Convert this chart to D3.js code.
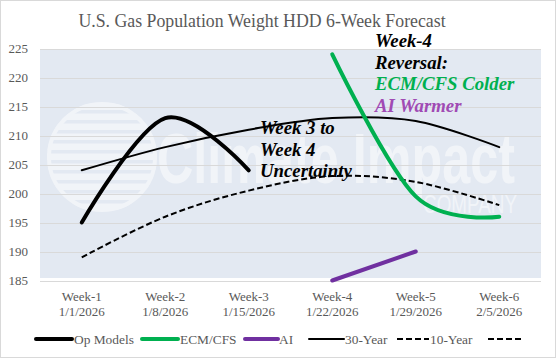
<!DOCTYPE html>
<html>
<head>
<meta charset="utf-8">
<script src="https://cdn.jsdelivr.net/npm/d3@7"></script>
<style>
  html, body { margin: 0; padding: 0; background: #fff; }
  svg { display: block; }
</style>
</head>
<body>
<div id="chart"></div>
<script>
// ---- Data ----
const weeks = ["Week-1", "Week-2", "Week-3", "Week-4", "Week-5", "Week-6"];
const dates = ["1/1/2026", "1/8/2026", "1/15/2026", "1/22/2026", "1/29/2026", "2/5/2026"];
const opModels = [195, 213, 204, null, null, null];
const ecmCfs = [null, null, null, 224, 199.5, 196];
const aiModel = [null, null, null, 185, 190, null];
const year30 = [204, 208, 211, 213, 212.5, 208];
const year10 = [189, 196, 200.5, 203, 202, 198];
const yTicks = [185, 190, 195, 200, 205, 210, 215, 220, 225];
const legendNames = ["Op Models", "ECM/CFS", "AI", "30-Year", "10-Year", ""];

// pick an installed serif font
function hasFont(name) {
  const c = document.createElement("canvas").getContext("2d");
  const s = "mmmmmmmmmmlliWWW 1234567890";
  c.font = "40px monospace"; const a = c.measureText(s).width;
  c.font = `40px '${name}', monospace`; const b = c.measureText(s).width;
  c.font = "40px sans-serif"; const a2 = c.measureText(s).width;
  c.font = `40px '${name}', sans-serif`; const b2 = c.measureText(s).width;
  return a !== b || a2 !== b2;
}
const serifCandidates = ["Liberation Serif", "Times New Roman", "Tinos", "DejaVu Serif"];
const serifName = serifCandidates.find(hasFont);
const SERIF = serifName ? `'${serifName}', serif` : "serif";

const W = 556, H = 358;
const plot = { left: 40, right: 541, top: 48.5, bottom: 280.5 };

const svg = d3.select("#chart").append("svg").attr("width", W).attr("height", H)
  .attr("font-family", SERIF);

// outer border
svg.append("rect").attr("x", 0.5).attr("y", 0.5).attr("width", W - 1).attr("height", H - 1)
  .attr("fill", "#fff").attr("stroke", "#d9d9d9");

const x = d3.scaleBand().domain(weeks).range([plot.left, plot.right]).padding(0);
const xc = d => x(d) + x.bandwidth() / 2;
const y = d3.scaleLinear().domain([185, 225]).range([plot.bottom, plot.top]);

// plot background
svg.append("rect").attr("x", plot.left).attr("y", plot.top + 1.5)
  .attr("width", plot.right - plot.left).attr("height", plot.bottom - plot.top - 4)
  .attr("fill", "#e3e9f2");

// watermark
const wm = svg.append("g").attr("opacity", 0.5).attr("fill", "#fff");
const cx = 102, cy = 157, r = 55;
const clipId = "globeclip";
svg.append("defs").append("clipPath").attr("id", clipId)
  .append("circle").attr("cx", cx).attr("cy", cy).attr("r", r);
const globe = wm.append("g").attr("clip-path", `url(#${clipId})`);
d3.range(-5, 6).forEach(i => {
  globe.append("rect").attr("x", cx - r).attr("y", cy + i * 10 - 3.5)
    .attr("width", 2 * r).attr("height", 6.5);
});
wm.append("circle").attr("cx", cx).attr("cy", cy).attr("r", r - 2)
  .attr("fill", "none").attr("stroke", "#fff").attr("stroke-width", 4);
wm.append("text").attr("x", 157).attr("y", 183)
  .attr("font-family", "'Liberation Sans', Arial, sans-serif").attr("font-size", 70)
  .attr("font-weight", "bold")
  .attr("textLength", 358).attr("lengthAdjust", "spacingAndGlyphs")
  .text("Climate Impact");
wm.append("text").attr("x", 423).attr("y", 213)
  .attr("font-family", "'Liberation Sans', Arial, sans-serif").attr("font-size", 26)
  .attr("textLength", 94).attr("lengthAdjust", "spacingAndGlyphs")
  .text("COMPANY");

// gridlines
svg.append("g").selectAll("line").data(yTicks).join("line")
  .attr("x1", plot.left).attr("x2", plot.right)
  .attr("y1", d => Math.round(y(d)) + 0.5).attr("y2", d => Math.round(y(d)) + 0.5)
  .attr("stroke", "#d9d9d9").attr("stroke-width", 1);

// y axis
const yAxis = d3.axisLeft(y).tickValues(yTicks).tickSize(0).tickPadding(0);
const gy = svg.append("g").attr("transform", `translate(28,0)`).call(yAxis);
gy.select(".domain").remove();
gy.attr("font-family", SERIF).attr("font-size", 13);
gy.selectAll("text").attr("font-family", SERIF).attr("font-size", 13).attr("fill", "#595959");

// x axis labels
const gx = svg.append("g");
weeks.forEach((w, i) => {
  const t = gx.append("text").attr("x", xc(w)).attr("text-anchor", "middle")
    .attr("font-family", SERIF).attr("font-size", 13).attr("fill", "#595959");
  t.append("tspan").attr("x", xc(w)).attr("y", 301).text(w);
  t.append("tspan").attr("x", xc(w)).attr("y", 316).text(dates[i]);
});

// title
svg.append("text").attr("x", 262).attr("y", 26.5).attr("text-anchor", "middle")
  .attr("font-family", SERIF).attr("font-size", 17.8).attr("fill", "#595959")
  .text("U.S. Gas Population Weight HDD 6-Week Forecast");

// series
const styles = [
  { vals: opModels, color: "#000", width: 4, dash: null },
  { vals: ecmCfs, color: "#00b050", width: 4, dash: null },
  { vals: aiModel, color: "#7030a0", width: 4, dash: null },
  { vals: year30, color: "#000", width: 2, dash: null },
  { vals: year10, color: "#000", width: 2, dash: "6,3" },
  { vals: null, color: "#000", width: 2, dash: "6,3" }
];

const line = d3.line()
  .x(d => xc(d.w)).y(d => y(d.v))
  .curve(d3.curveCatmullRom.alpha(0));

const drawOrder = [4, 3, 0, 1, 2];
drawOrder.forEach(i => {
  const s = styles[i];
  const pts = weeks.map((w, j) => ({ w, v: s.vals[j] })).filter(d => d.v !== null);
  svg.append("path").datum(pts).attr("d", line)
    .attr("fill", "none").attr("stroke", s.color).attr("stroke-width", s.width)
    .attr("stroke-linecap", s.dash ? "butt" : "round")
    .attr("stroke-dasharray", s.dash);
});

// annotations
const ann1 = [
  { t: "Week 3 to", y: 134 },
  { t: "Week 4", y: 155.5 },
  { t: "Uncertainty", y: 177 }
];
ann1.forEach(a => {
  svg.append("text").attr("x", 260).attr("y", a.y)
    .attr("font-family", SERIF).attr("font-size", 18.8)
    .attr("font-weight", "bold").attr("font-style", "italic").attr("fill", "#000").text(a.t);
});
const ann2 = [
  { t: "Week-4", y: 47, c: "#000" },
  { t: "Reversal:", y: 68.5, c: "#000" },
  { t: "ECM/CFS Colder", y: 90, c: "#00b050" },
  { t: "AI Warmer", y: 111.5, c: "#a04ab4" }
];
ann2.forEach(a => {
  svg.append("text").attr("x", 375).attr("y", a.y)
    .attr("font-family", SERIF).attr("font-size", 18.8)
    .attr("font-weight", "bold").attr("font-style", "italic").attr("fill", a.c).text(a.t);
});

// legend
const legendPos = [
  { x1: 36, x2: 72, tx: 74 },
  { x1: 142, x2: 178, tx: 180 },
  { x1: 245, x2: 278, tx: 279 },
  { x1: 309, x2: 344, tx: 345 },
  { x1: 397, x2: 429, tx: 430 },
  { x1: 488, x2: 521, tx: 522 }
];
const lg = svg.append("g");
legendNames.forEach((n, i) => {
  const s = styles[i], p = legendPos[i];
  lg.append("line").attr("x1", p.x1).attr("x2", p.x2).attr("y1", 339).attr("y2", 339)
    .attr("stroke", s.color).attr("stroke-width", s.width)
    .attr("stroke-linecap", s.dash ? "butt" : "round")
    .attr("stroke-dasharray", s.dash);
  if (n) lg.append("text").attr("x", p.tx).attr("y", 343.5)
    .attr("font-family", SERIF).attr("font-size", 13.4).attr("fill", "#595959").text(n);
});
</script>
</body>
</html>
